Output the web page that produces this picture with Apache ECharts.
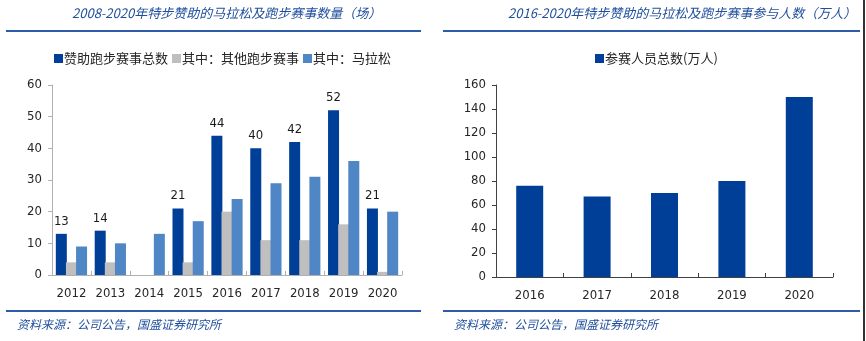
<!DOCTYPE html>
<html>
<head>
<meta charset="utf-8">
<script src="https://cdn.jsdelivr.net/npm/echarts@6/dist/echarts.min.js"></script>
<style>
html,body{margin:0;padding:0;background:#fff;}
#c{width:866px;height:341px;}
</style>
</head>
<body>
<div id="c"></div>
<script>
// Left chart data
var yearsLeft = ['2012','2013','2014','2015','2016','2017','2018','2019','2020'];
var totalEvents = [13, 14, null, 21, 44, 40, 42, 52, 21];
var otherRuns = [4, 4, null, 4, 20, 11, 11, 16, 1];
var marathons = [9, 10, 13, 17, 24, 29, 31, 36, 20];
// Right chart data
var yearsRight = ['2016','2017','2018','2019','2020'];
var participants = [76, 67, 70, 80, 150];

var titleLeft = '2008-2020年特步赞助的马拉松及跑步赛事数量（场）';
var titleRight = '2016-2020年特步赞助的马拉松及跑步赛事参与人数（万人）';
var sourceText = '资料来源：公司公告，国盛证券研究所';
var seriesNames = ['赞助跑步赛事总数', '其中：其他跑步赛事', '其中：马拉松', '参赛人员总数(万人)'];

var FONT = '"Noto Sans CJK SC", "DejaVu Sans", sans-serif';
var AXFONT = '"DejaVu Sans Condensed", "Liberation Sans", "DejaVu Sans", sans-serif';
var C_DARK = '#003f98', C_GRAY = '#bfbfbf', C_LIGHT = '#4f86c6', C_TITLE = '#1f4e9c';

var chart = echarts.init(document.getElementById('c'), null, {renderer: 'canvas'});

function axisCommon(data, color) {
  return {
    type: 'category', data: data,
    axisLine: {lineStyle: {color: color, width: 1}},
    axisTick: {show: true, inside: true, length: 4, lineStyle: {color: color}},
    axisLabel: {color: '#262626', fontSize: 13, fontFamily: AXFONT, margin: 12, interval: 0}
  };
}
function yCommon(max, interval, color, gi) {
  return {
    type: 'value', gridIndex: gi, min: 0, max: max, interval: interval,
    axisLine: {show: true, lineStyle: {color: color}},
    axisTick: {show: true, length: 4, lineStyle: {color: color}},
    splitLine: {show: false},
    axisLabel: {color: '#262626', fontSize: 13, fontFamily: AXFONT, margin: 10}
  };
}

var xl = axisCommon(yearsLeft, '#b0b0b0'); xl.gridIndex = 0;
var xr = axisCommon(yearsRight, '#404040'); xr.gridIndex = 1;

chart.setOption({
  animation: false,
  textStyle: {fontFamily: FONT},
  grid: [
    {left: 52, right: 464, top: 85, bottom: 66},
    {left: 496, right: 33, top: 85, bottom: 64}
  ],
  legend: [
    {data: seriesNames.slice(0,3), left: 49, top: 47, icon: 'rect', itemWidth: 9, itemHeight: 9, itemGap: 4,
     textStyle: {fontSize: 13, color: '#262626', fontFamily: FONT, padding: [0,0,0,-4]}},
    {data: [seriesNames[3]], left: 590, top: 47, icon: 'rect', itemWidth: 9, itemHeight: 9,
     textStyle: {fontSize: 13, color: '#262626', fontFamily: FONT, padding: [0,0,0,-4]}}
  ],
  xAxis: [xl, xr],
  yAxis: [yCommon(60, 10, '#b0b0b0', 0), yCommon(160, 20, '#404040', 1)],
  series: [
    {name: seriesNames[0], type: 'bar', xAxisIndex: 0, yAxisIndex: 0, data: totalEvents, barWidth: 11, barGap: '-8%',
     itemStyle: {color: C_DARK},
     label: {show: true, position: 'top', color: '#1a1a1a', fontSize: 13, fontFamily: AXFONT, distance: 6}},
    {name: seriesNames[1], type: 'bar', xAxisIndex: 0, yAxisIndex: 0, data: otherRuns, barWidth: 11, barGap: '-8%',
     itemStyle: {color: C_GRAY}},
    {name: seriesNames[2], type: 'bar', xAxisIndex: 0, yAxisIndex: 0, data: marathons, barWidth: 11, barGap: '-8%',
     itemStyle: {color: C_LIGHT}},
    {name: seriesNames[3], type: 'bar', xAxisIndex: 1, yAxisIndex: 1, data: participants, barWidth: 27,
     itemStyle: {color: C_DARK}}
  ],
  graphic: [
    {type: 'text', left: 72, top: 7, style: {text: titleLeft, font: 'italic 13px ' + FONT, fill: C_TITLE}},
    {type: 'text', left: 508, top: 7, style: {text: titleRight, font: 'italic 13px ' + FONT, fill: C_TITLE}},
    {type: 'rect', shape: {x: 6, y: 30, width: 415, height: 2}, style: {fill: '#2e5ca8'}},
    {type: 'rect', shape: {x: 443, y: 30, width: 417, height: 2}, style: {fill: '#2e5ca8'}},
    {type: 'rect', shape: {x: 6, y: 310, width: 415, height: 2}, style: {fill: '#2e5ca8'}},
    {type: 'rect', shape: {x: 443, y: 310, width: 417, height: 2}, style: {fill: '#2e5ca8'}},
    {type: 'rect', shape: {x: 863, y: 0, width: 2, height: 341}, style: {fill: '#333'}},
    {type: 'text', left: 17, top: 318, style: {text: sourceText, font: 'italic 12px ' + FONT, fill: C_TITLE}},
    {type: 'text', left: 454, top: 318, style: {text: sourceText, font: 'italic 12px ' + FONT, fill: C_TITLE}}
  ]
});
</script>
</body>
</html>
